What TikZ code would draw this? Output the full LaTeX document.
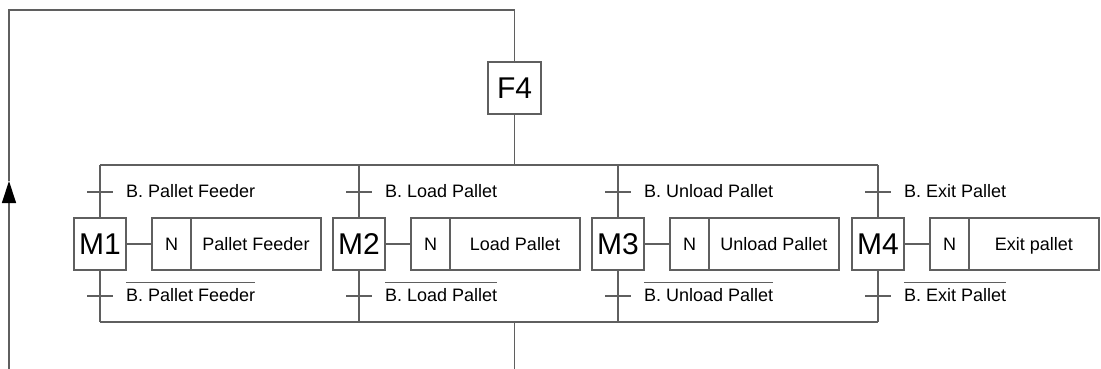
\documentclass[tikz,border=0pt]{standalone}
\usepackage{fontspec}
\setmainfont{Liberation Sans}
\usetikzlibrary{arrows.meta}
\definecolor{linegray}{RGB}{95,95,95}
\tikzset{
  wire/.style={draw=linegray, line width=1.3pt},
  stepbox/.style={draw=linegray, line width=1.3pt, outer sep=0pt, inner sep=0pt,
    minimum width=52pt, minimum height=52pt, font=\fontsize{30}{30}\selectfont},
  qualbox/.style={draw=linegray, line width=1.3pt, outer sep=0pt, inner sep=0pt,
    minimum width=39pt, minimum height=52pt, text height=12.5pt, text depth=0pt,
    font=\fontsize{18}{21}\selectfont},
  actbox/.style={qualbox, minimum width=130pt},
  cond/.style={anchor=west, inner sep=0pt, font=\fontsize{18}{21}\selectfont},
}
\begin{document}
\begin{tikzpicture}[x=1pt, y=-1pt]
  \useasboundingbox (0,0) rectangle (1101,369);
  % macro step and loop back
  \node[stepbox, minimum width=53pt] (f4) at (514.5,88) {F4};
  \coordinate (lb) at (9,369);
  \coordinate (arr) at (9,181);
  \coordinate (lt) at (9,10);
  \coordinate (ft) at (514.5,10);
  \coordinate (out) at (514.5,369);
  \draw[wire, -{Triangle[length=22pt,width=14pt,black]}] (lb) -- (arr);
  \draw[wire] (arr) -- (lt) -- (ft) -- (f4.north);
  % parallel branches
  \coordinate (tl) at (100,165);
  \coordinate (tr) at (878,165);
  \coordinate (bl) at (100,322);
  \coordinate (br) at (878,322);
  \draw[wire] (tl) -- (tr);
  \draw[wire] (bl) -- (br);
  \draw[wire] (f4.south) -- (f4 |- tl);
  \draw[wire] (out |- bl) -- (out);
  \foreach \i/\x/\bname/\act in {1/100/Pallet Feeder/Pallet Feeder,
      2/359/Load Pallet/Load Pallet, 3/618/Unload Pallet/Unload Pallet,
      4/878/Exit Pallet/Exit pallet}{
    \node[stepbox] (m\i) at (\x,244) {M\i};
    \node[qualbox, anchor=west] (q\i) at ({\x+26},244) [xshift=26pt] {N};
    \node[actbox, anchor=west] (a\i) at (q\i.east) {\act};
    \draw[wire] (m\i) -- (q\i);
    \draw[wire] (m\i |- tl) -- (m\i);
    \draw[wire] (m\i) -- (m\i |- bl);
    % transitions
    \draw[wire] ({\x-13},192) -- ({\x+13},192);
    \draw[wire] ({\x-13},296) -- ({\x+13},296);
    \node[cond] (bt\i) at ({\x+26},191) {B. \bname};
    \node[cond] (bb\i) at ({\x+26},295) {B. \bname};
    \draw[wire] ([yshift=6pt]bb\i.north west) -- ([yshift=6pt]bb\i.north east);
  }
\end{tikzpicture}
\end{document}
